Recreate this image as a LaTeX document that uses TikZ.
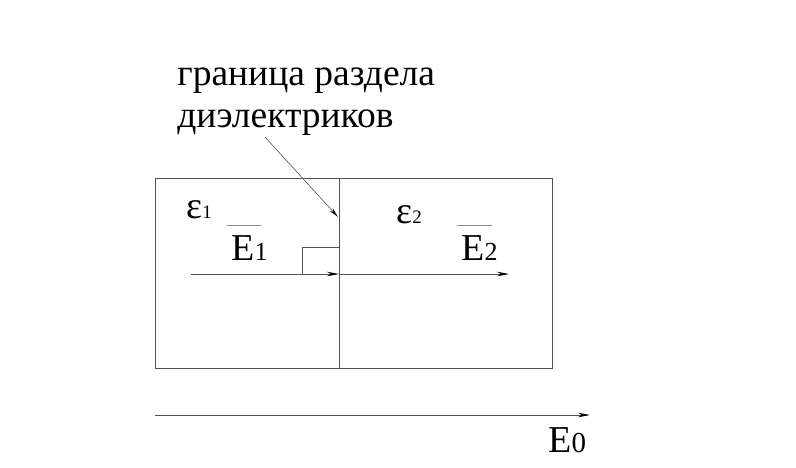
\documentclass[tikz,border=0pt]{standalone}
\usepackage{fontspec}
\setmainfont{Liberation Serif}
\newfontfamily\tnr{Liberation Serif}
\usetikzlibrary{arrows.meta}

\begin{document}
\begin{tikzpicture}[x=1pt,y=-1pt,>={Stealth[length=12pt,width=4.5pt]},
                    line width=0.8pt,
                    ln/.style={draw=black!68},
                    tip/.style={->,arrows={-Stealth[length=12pt,width=4.5pt,black]}},
                    vecbar/.style={draw=black!45,line width=0.9pt},
                    lbltext/.style={inner sep=0pt,font=\tnr\fontsize{37.5}{40}\selectfont},
                    sym/.style={inner sep=0pt,font=\tnr\fontsize{38}{40}\selectfont}]
  \useasboundingbox (0,0) rectangle (796,467);

  % medium boundaries
  \coordinate (TL) at (155,178);
  \coordinate (BR) at (552,368);
  \coordinate (bndT) at (339,178);
  \coordinate (bndB) at (339,368);
  \coordinate (bndM) at (339,274);
  \coordinate (bndA) at (338,217);
  \coordinate (E1s) at (191,274);
  \coordinate (E2e) at (509,274);
  \coordinate (E0s) at (155,415);
  \coordinate (E0e) at (590,415);

  \node[lbltext,anchor=base west] (lbl1) at (177,85) {граница раздела};
  \node[lbltext,anchor=base west] (lbl2) at (177,127) {диэлектриков};
  \coordinate (lblA) at (265,137);

  \node[sym,anchor=base west] (eps1) at (186,218) {ε\fontsize{19}{20}\selectfont 1};
  \node[sym,anchor=base west] (eps2) at (396,223) {ε\fontsize{19}{20}\selectfont 2};
  \node[sym,anchor=base west] (E1) at (231,260) {E\fontsize{26}{28}\selectfont 1};
  \node[sym,anchor=base west] (E2) at (461,260) {E\fontsize{26}{28}\selectfont 2};
  \node[sym,anchor=base west] (E0) at (548,452) {E\fontsize{29}{30}\selectfont 0};

  \draw[ln] (TL) rectangle (BR);
  \draw[ln] (bndT) -- (bndB);
  \draw[ln] (302,274) -- (302,247) -- (339,247);
  \draw[ln,tip] (E1s) -- (bndM);
  \draw[ln,tip] (bndM) -- (E2e);
  \draw[ln,tip] (E0s) -- (E0e);
  \draw[ln,line width=0.6pt,->,arrows={-Stealth[length=10pt,width=4pt,black]}] (lblA) -- (bndA);
  \draw[vecbar] (227,225) -- (261,225);
  \draw[vecbar] (457,225) -- (492,225);
\end{tikzpicture}
\end{document}
